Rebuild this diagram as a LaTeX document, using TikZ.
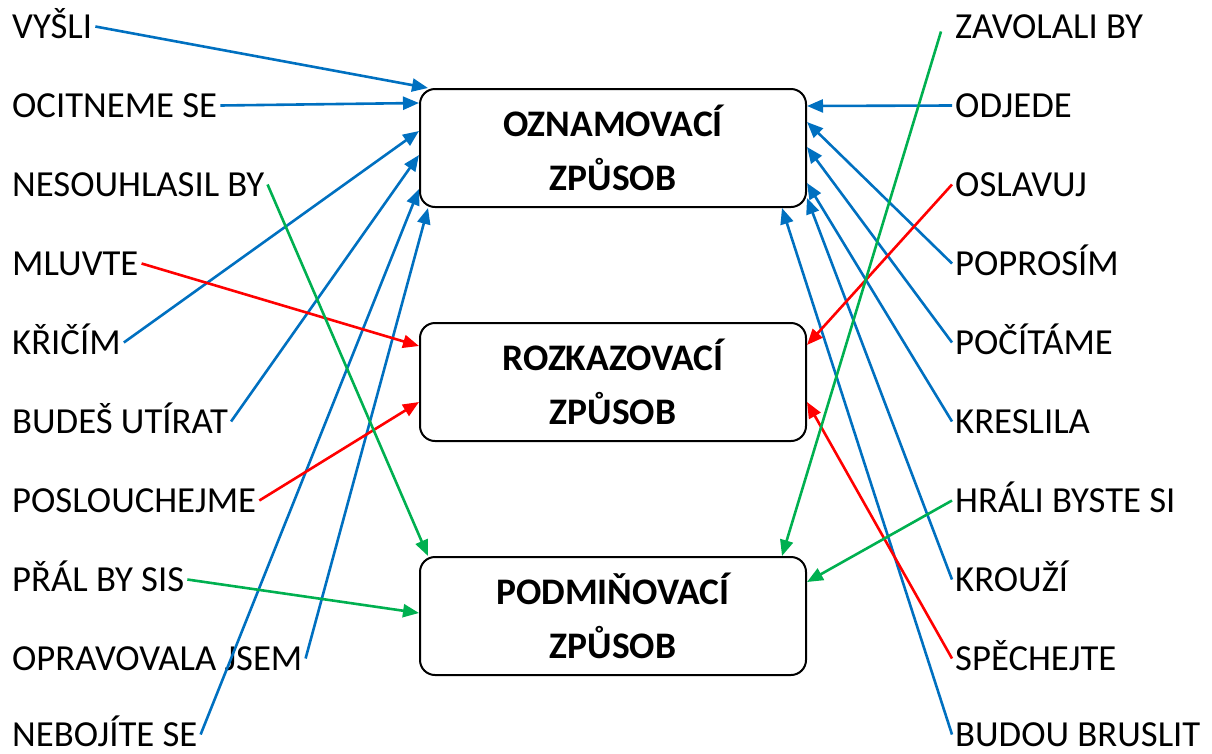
\documentclass[tikz,border=0pt]{standalone}
\usepackage{fontspec}
\setmainfont{Carlito}
\usetikzlibrary{arrows.meta}
\definecolor{oblue}{HTML}{0070C0}
\definecolor{ored}{HTML}{FF0000}
\definecolor{ogreen}{HTML}{00B050}

\begin{document}
\begin{tikzpicture}[x=1pt, y=-1pt, >={Triangle[length=16pt,width=13pt]},
    lbl/.style={anchor=base west, inner xsep=3pt, inner ysep=0pt, text height=23pt, text depth=0pt, font=\fontsize{36.7}{44}\selectfont},
    mode/.style={draw, line width=2pt, rounded corners=15pt, minimum width=386pt, minimum height=118pt, align=center, font=\fontsize{37.5}{54}\selectfont\bfseries},
    link/.style={->, line width=2.6pt}]
    \useasboundingbox (0,0) rectangle (1212,753);

    % the three moods
    \node[mode] (ozn) at (613,148) {OZNAMOVACÍ\\ZPŮSOB};
    \node[mode] (roz) at (613,382) {ROZKAZOVACÍ\\ZPŮSOB};
    \node[mode] (pod) at (613,616) {PODMIŇOVACÍ\\ZPŮSOB};

    % left column
    \node[lbl] (vysli) at (9,38) {VYŠLI};
    \node[lbl] (ocit) at (9,117) {OCITNEME SE};
    \node[lbl] (nesouhl) at (9,196) {NESOUHLASIL BY};
    \node[lbl] (mluvte) at (9,275) {MLUVTE};
    \node[lbl] (kricim) at (9,354) {KŘIČÍM};
    \node[lbl] (budes) at (9,433) {BUDEŠ UTÍRAT};
    \node[lbl] (poslouch) at (9,512) {POSLOUCHEJME};
    \node[lbl] (pral) at (9,591) {PŘÁL BY SIS};
    \node[lbl] (oprav) at (9,670) {OPRAVOVALA JSEM};
    \node[lbl] (neboj) at (9,746) {NEBOJÍTE SE};

    % right column
    \node[lbl] (zavolali) at (952,38) {ZAVOLALI BY};
    \node[lbl] (odjede) at (952,117) {ODJEDE};
    \node[lbl] (oslavuj) at (952,196) {OSLAVUJ};
    \node[lbl] (poprosim) at (952,275) {POPROSÍM};
    \node[lbl] (pocitame) at (952,354) {POČÍTÁME};
    \node[lbl] (kreslila) at (952,433) {KRESLILA};
    \node[lbl] (hrali) at (952,512) {HRÁLI BYSTE SI};
    \node[lbl] (krouzi) at (952,591) {KROUŽÍ};
    \node[lbl] (spech) at (952,670) {SPĚCHEJTE};
    \node[lbl] (budou) at (952,746) {BUDOU BRUSLIT};

    % oznamovaci
    \draw[link, oblue] (vysli.east) -- ([xshift=9pt]ozn.north west);
    \draw[link, oblue] (ocit.east) -- ([yshift=45pt]ozn.west);
    \draw[link, oblue] (kricim.east) -- ([yshift=17pt]ozn.west);
    \draw[link, oblue] (budes.east) -- ([yshift=-7pt]ozn.west);
    \draw[link, oblue] (neboj.east) -- ([yshift=-41pt]ozn.west);
    \draw[link, oblue] (oprav.east) -- ([xshift=9pt]ozn.south west);
    \draw[link, oblue] (odjede.west) -- ([yshift=42pt]ozn.east);
    \draw[link, oblue] (poprosim.west) -- ([yshift=26pt]ozn.east);
    \draw[link, oblue] (pocitame.west) -- ([yshift=1pt]ozn.east);
    \draw[link, oblue] (kreslila.west) -- ([yshift=-35pt]ozn.east);
    \draw[link, oblue] (krouzi.west) -- ([yshift=-50pt]ozn.east);
    \draw[link, oblue] (budou.west) -- ([xshift=-25pt]ozn.south east);

    % rozkazovaci
    \draw[link, ored] (mluvte.east) -- ([yshift=36pt]roz.west);
    \draw[link, ored] (poslouch.east) -- ([yshift=-20pt]roz.west);
    \draw[link, ored] (oslavuj.west) -- ([yshift=37pt]roz.east);
    \draw[link, ored] (spech.west) -- ([yshift=-20pt]roz.east);

    % podminovaci
    \draw[link, ogreen] (nesouhl.east) -- ([xshift=9pt]pod.north west);
    \draw[link, ogreen] (pral.east) -- ([yshift=3pt]pod.west);
    \draw[link, ogreen] ([xshift=-11pt,yshift=-5pt]zavolali.west) -- ([xshift=-25pt]pod.north east);
    \draw[link, ogreen] (hrali.west) -- ([yshift=34pt]pod.east);
\end{tikzpicture}
\end{document}
